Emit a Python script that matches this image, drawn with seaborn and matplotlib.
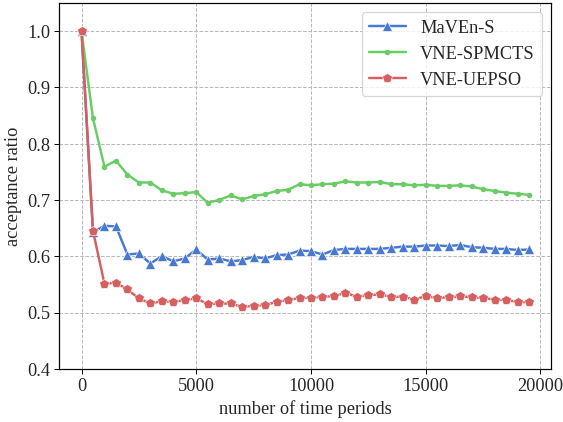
import numpy as np
import pandas as pd
import matplotlib
matplotlib.use("Agg")
import matplotlib.pyplot as plt
import seaborn as sns

periods = list(range(0, 20000, 500))

maven_s = [1.000, 0.643, 0.654, 0.653, 0.603, 0.605, 0.587, 0.600, 0.591, 0.596,
           0.612, 0.594, 0.596, 0.591, 0.593, 0.599, 0.596, 0.602, 0.603, 0.610,
           0.609, 0.603, 0.611, 0.613, 0.613, 0.613, 0.613, 0.615, 0.617, 0.617,
           0.619, 0.619, 0.618, 0.620, 0.616, 0.615, 0.613, 0.613, 0.611, 0.612]

vne_spmcts = [1.000, 0.845, 0.759, 0.770, 0.745, 0.731, 0.731, 0.717, 0.711, 0.712,
              0.714, 0.695, 0.700, 0.708, 0.701, 0.707, 0.710, 0.716, 0.718, 0.728,
              0.726, 0.728, 0.729, 0.733, 0.731, 0.731, 0.732, 0.728, 0.728, 0.726,
              0.727, 0.725, 0.725, 0.726, 0.724, 0.719, 0.716, 0.713, 0.711, 0.709]

vne_uepso = [1.000, 0.645, 0.551, 0.553, 0.541, 0.525, 0.516, 0.520, 0.519, 0.522,
             0.525, 0.515, 0.516, 0.516, 0.510, 0.512, 0.513, 0.519, 0.522, 0.526,
             0.526, 0.528, 0.529, 0.535, 0.528, 0.531, 0.532, 0.528, 0.528, 0.523,
             0.529, 0.526, 0.527, 0.529, 0.527, 0.526, 0.523, 0.522, 0.519, 0.518]

sns.set_style("whitegrid", {
    "grid.linestyle": "--",
    "grid.color": "#b8b8b8",
    "axes.edgecolor": "black",
    "xtick.bottom": True,
    "ytick.left": True,
})
plt.rcParams["font.family"] = ["Liberation Serif", "DejaVu Serif"]
plt.rcParams["font.size"] = 15

palette = sns.color_palette("muted")
blue, green, red = palette[0], palette[2], palette[3]

df = pd.DataFrame({
    "period": periods,
    "MaVEn-S": maven_s,
    "VNE-SPMCTS": vne_spmcts,
    "VNE-UEPSO": vne_uepso,
})

fig = plt.figure(figsize=(6.4, 4.8), dpi=88)
ax = fig.add_axes([0.105, 0.126, 0.874, 0.866])

sns.lineplot(data=df, x="period", y="MaVEn-S", ax=ax, color=blue, marker="^",
             markersize=8, markeredgewidth=0.5, linewidth=2, label="MaVEn-S")
sns.lineplot(data=df, x="period", y="VNE-SPMCTS", ax=ax, color=green, marker="o",
             markersize=4.5, markeredgewidth=0, linewidth=2, label="VNE-SPMCTS")
sns.lineplot(data=df, x="period", y="VNE-UEPSO", ax=ax, color=red, marker="p",
             markersize=8.5, markeredgewidth=0.5, linewidth=2, label="VNE-UEPSO")

ax.set_ylim(0.4, 1.05)
ax.set_xlim(-975, 20475)
ax.set_xticks([0, 5000, 10000, 15000, 20000])
ax.set_yticks([0.4, 0.5, 0.6, 0.7, 0.8, 0.9, 1.0])
ax.set_xlabel("number of time periods", fontsize=15)
ax.set_ylabel("acceptance ratio", fontsize=15)
ax.tick_params(labelsize=15, length=4, color="black")
for s in ax.spines.values():
    s.set_linewidth(1.0)
    s.set_color("black")

ax.legend(loc="upper right", fontsize=15, frameon=True)

fig.savefig("out.png", dpi=88)
